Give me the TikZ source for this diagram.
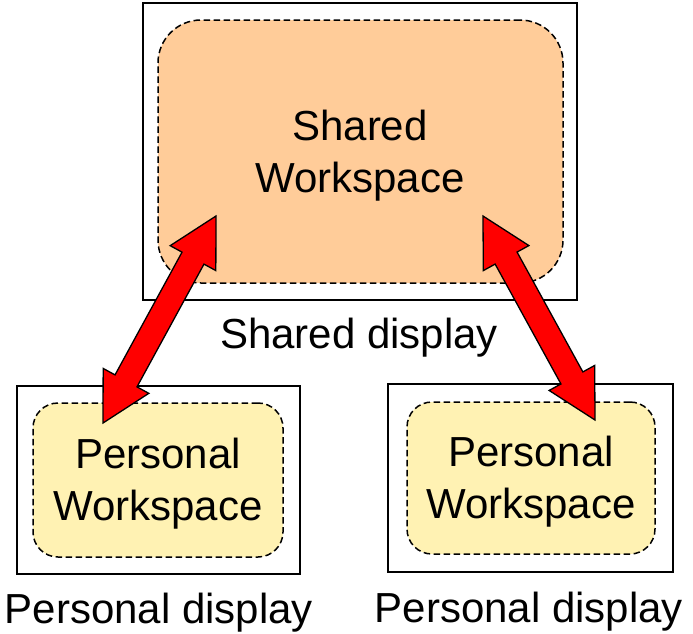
\documentclass[tikz,border=0pt]{standalone}
\usepackage{fontspec}
\setmainfont{Liberation Sans}
\usetikzlibrary{calc}
\definecolor{peach}{HTML}{FFCC99}
\definecolor{paleyellow}{HTML}{FFF2B3}
\begin{document}
\begin{tikzpicture}[x=1pt,y=-1pt,
  display/.style={draw=black, line width=1.2pt, inner sep=0pt},
  workspace/.style={draw=black, line width=1.5pt, dash pattern=on 6.5pt off 3.5pt, inner sep=0pt},
  lbl/.style={font=\fontsize{42}{51.5}\selectfont, align=center, anchor=base, inner sep=0pt},
  bigarrow/.style={fill=red, draw=black, line width=1.3pt, line join=miter}]
\useasboundingbox (0,0) rectangle (693,633);
% shared display
\node[display, minimum width=434pt, minimum height=297pt] (sd) at (360,151.5) {};
\node[workspace, fill=peach, rounded corners=43pt, minimum width=405pt, minimum height=263pt] (sw) at (360.5,151.5) {};
\node[lbl] (swt) at (360,192) {Shared\\Workspace};
\node[lbl] (sdl) at (359,348) {Shared display};
% left personal display
\node[display, minimum width=283pt, minimum height=188pt] (pd1) at (158.5,480) {};
\node[workspace, fill=paleyellow, rounded corners=25pt, minimum width=250pt, minimum height=154pt] (pw1) at (158,480) {};
\node[lbl] (pw1t) at (158,520) {Personal\\Workspace};
\node[lbl] (pd1l) at (159,623) {Personal display};
% right personal display
\node[display, minimum width=285pt, minimum height=188pt] (pd2) at (530.5,478) {};
\node[workspace, fill=paleyellow, rounded corners=25pt, minimum width=248pt, minimum height=152pt] (pw2) at (531,478) {};
\node[lbl] (pw2t) at (531,518) {Personal\\Workspace};
\node[lbl] (pd2l) at (529,622) {Personal display};
% arrows
\coordinate (la) at (103,423);
\coordinate (lb) at (216,216);
\coordinate (ra) at (483,216);
\coordinate (rb) at (595,420);
\foreach \A/\B in {la/lb, ra/rb}{
  \coordinate (HA) at ($(\A)!48pt!(\B)$);
  \coordinate (HB) at ($(\B)!48pt!(\A)$);
  \draw[bigarrow] (\A) -- ($(HA)!26pt!90:(\B)$) -- ($(HA)!12.5pt!90:(\B)$)
    -- ($(HB)!12.5pt!-90:(\A)$) -- ($(HB)!26pt!-90:(\A)$) -- (\B)
    -- ($(HB)!26pt!90:(\A)$) -- ($(HB)!12.5pt!90:(\A)$)
    -- ($(HA)!12.5pt!-90:(\B)$) -- ($(HA)!26pt!-90:(\B)$) -- cycle;
}
\end{tikzpicture}
\end{document}
